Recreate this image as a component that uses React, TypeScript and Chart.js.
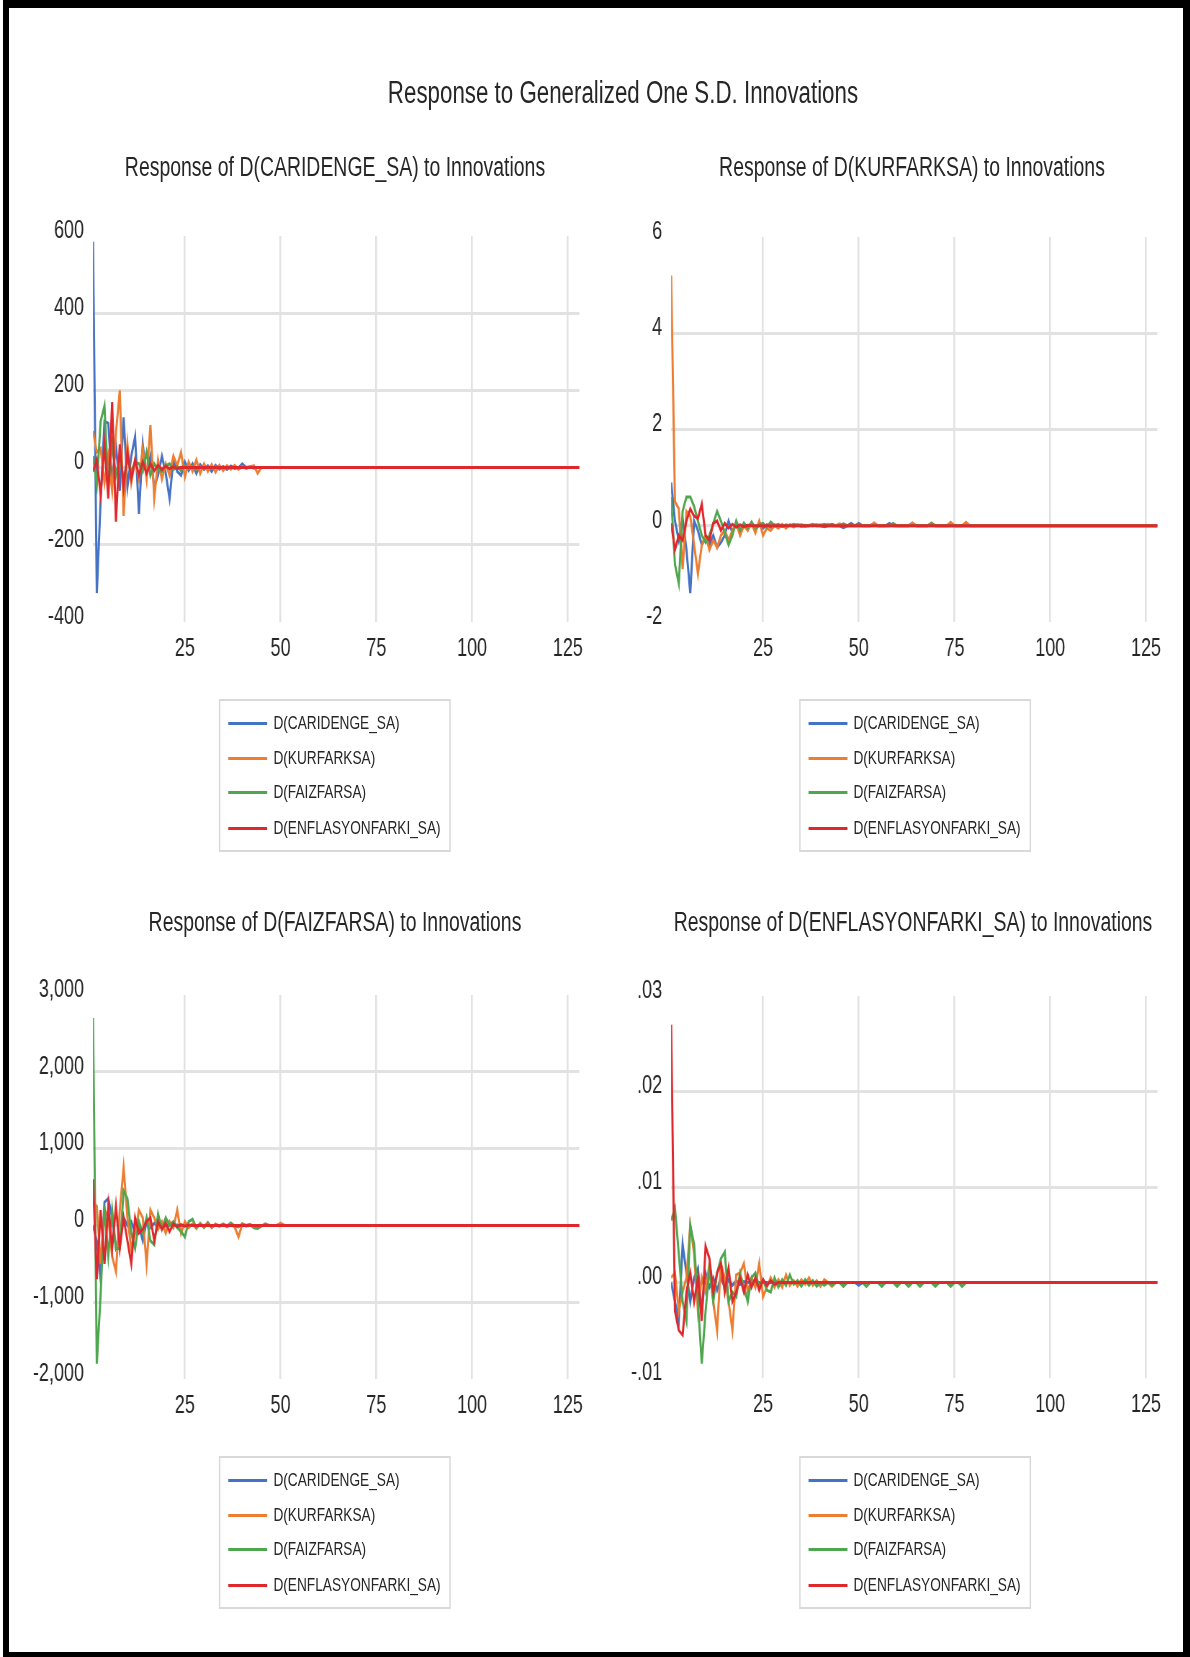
import React, { useEffect, useRef } from "react";
import { Chart, registerables } from "chart.js";

Chart.register(...registerables);

// ---------- text ----------
const mainTitle = "Response to Generalized One S.D. Innovations";
const panelTitles = [
  "Response of D(CARIDENGE_SA) to Innovations",
  "Response of D(KURFARKSA) to Innovations",
  "Response of D(FAIZFARSA) to Innovations",
  "Response of D(ENFLASYONFARKI_SA) to Innovations",
];
const seriesNames = ["D(CARIDENGE_SA)", "D(KURFARKSA)", "D(FAIZFARSA)", "D(ENFLASYONFARKI_SA)"];
const seriesColors = ["#4472C4", "#ED7D31", "#4EA64E", "#E0282C"];

// ---------- axes ----------
const X_MIN = 1;
const X_MAX = 128;
const xTicks = [25, 50, 75, 100, 125];
const xTickLabels = ["25", "50", "75", "100", "125"];

const yTicksCari = [-400, -200, 0, 200, 400, 600];
const yLabelsCari = ["-400", "-200", "0", "200", "400", "600"];
const yTicksKur = [-2, 0, 2, 4, 6];
const yLabelsKur = ["-2", "0", "2", "4", "6"];
const yTicksFaiz = [-2000, -1000, 0, 1000, 2000, 3000];
const yLabelsFaiz = ["-2,000", "-1,000", "0", "1,000", "2,000", "3,000"];
const yTicksEnf = [-0.01, 0, 0.01, 0.02, 0.03];
const yLabelsEnf = ["-.01", ".00", ".01", ".02", ".03"];

// ---------- series (periods 1..128) ----------
// Response of D(CARIDENGE_SA)
const cariToCari = [
  585, -325, -85, 120, 115, -40, 60, -60, 130, -50, 30, 80,
  -120, 60, -20, 30, -50, -20, 30, -15, -80, 20, -10, -20,
  15, -8, 10, -15, 8, -5, 5, -10, 6, -4, 3, -5,
  4, -2, 0, 10, 0, 2, -1, 0, 0, 0, 0, 0,
  0, 0, 0, 0, 0, 0, 0, 0, 0, 0, 0, 0, 0, 0, 0, 0, 0, 0, 0, 0,
  0, 0, 0, 0, 0, 0, 0, 0, 0, 0, 0, 0, 0, 0, 0, 0, 0, 0, 0, 0,
  0, 0, 0, 0, 0, 0, 0, 0, 0, 0, 0, 0, 0, 0, 0, 0, 0, 0, 0, 0,
  0, 0, 0, 0, 0, 0, 0, 0, 0, 0, 0, 0, 0, 0, 0, 0, 0, 0, 0, 0,
];
const cariToKur = [
  95, 40, 50, -40, 30, -60, 90, 200, -125, 60, -40, 20,
  -30, 50, -30, 110, -80, 20, -30, 10, -20, 30, 5, 40,
  -25, 15, -10, 20, -15, 10, -10, 8, -12, 6, -8, 5,
  -4, 6, -5, 3, -3, 2, 5, -15, 0, 0, 0, 0,
  0, 0, 0, 0, 0, 0, 0, 0, 0, 0, 0, 0, 0, 0, 0, 0, 0, 0, 0, 0,
  0, 0, 0, 0, 0, 0, 0, 0, 0, 0, 0, 0, 0, 0, 0, 0, 0, 0, 0, 0,
  0, 0, 0, 0, 0, 0, 0, 0, 0, 0, 0, 0, 0, 0, 0, 0, 0, 0, 0, 0,
  0, 0, 0, 0, 0, 0, 0, 0, 0, 0, 0, 0, 0, 0, 0, 0, 0, 0, 0, 0,
];
const cariToFaiz = [
  30, -45, 120, 160, -50, 60, -20, 30, -30, 20, -10, 15,
  10, -10, 40, -20, 10, -5, -10, 5, 10, -5, 3, -8,
  5, -3, 4, -6, 3, -2, 2, -3, 2, -1, 1, -1,
  0, 0, 0, 0, 0, 0, 0, 0, 0, 0, 0, 0,
  0, 0, 0, 0, 0, 0, 0, 0, 0, 0, 0, 0, 0, 0, 0, 0, 0, 0, 0, 0,
  0, 0, 0, 0, 0, 0, 0, 0, 0, 0, 0, 0, 0, 0, 0, 0, 0, 0, 0, 0,
  0, 0, 0, 0, 0, 0, 0, 0, 0, 0, 0, 0, 0, 0, 0, 0, 0, 0, 0, 0,
  0, 0, 0, 0, 0, 0, 0, 0, 0, 0, 0, 0, 0, 0, 0, 0, 0, 0, 0, 0,
];
const cariToEnf = [
  -10, 20, -70, 60, -80, 170, -140, 60, -50, 40, -30, 20,
  -20, 15, -15, 10, -8, 6, -5, 4, -3, 2, -2, 1,
  0, 0, 0, 0, 0, 0, 0, 0, 0, 0, 0, 0,
  0, 0, 0, 0, 0, 0, 0, 0, 0, 0, 0, 0,
  0, 0, 0, 0, 0, 0, 0, 0, 0, 0, 0, 0, 0, 0, 0, 0, 0, 0, 0, 0,
  0, 0, 0, 0, 0, 0, 0, 0, 0, 0, 0, 0, 0, 0, 0, 0, 0, 0, 0, 0,
  0, 0, 0, 0, 0, 0, 0, 0, 0, 0, 0, 0, 0, 0, 0, 0, 0, 0, 0, 0,
  0, 0, 0, 0, 0, 0, 0, 0, 0, 0, 0, 0, 0, 0, 0, 0, 0, 0, 0, 0,
];

// Response of D(KURFARKSA)
const kurToCari = [
  0.9, 0.1, -0.3, 0.15, -0.5, -1.4, 0.1, -0.1, -0.4, -0.25, -0.4, -0.2,
  -0.45, -0.35, -0.2, 0.1, -0.15, 0.05, -0.1, 0.05, -0.05, 0.03, -0.08, 0.02,
  -0.05, 0.02, -0.03, 0.02, -0.02, 0.01, -0.02, 0.01, 0, 0.02, 0, -0.01,
  0.01, 0, 0.02, 0, -0.02, 0, 0.03, 0, 0, -0.04, 0, 0.05,
  0, 0.05, 0, 0, 0, 0.05, 0, 0, 0, 0.05, 0, 0, 0, 0, 0, 0.05, 0, 0, 0, 0,
  0, 0, 0, 0, 0, 0, 0, 0, 0, 0, 0, 0, 0, 0, 0, 0, 0, 0, 0, 0,
  0, 0, 0, 0, 0, 0, 0, 0, 0, 0, 0, 0, 0, 0, 0, 0, 0, 0, 0, 0,
  0, 0, 0, 0, 0, 0, 0, 0, 0, 0, 0, 0, 0, 0, 0, 0, 0, 0, 0, 0,
];
const kurToKur = [
  5.2, 0.5, 0.35, -0.9, 0.3, 0.2, -0.4, -1.0, -0.4, -0.2, -0.5, -0.3,
  -0.45, -0.2, -0.1, -0.3, -0.1, 0.05, -0.2, 0, -0.1, 0.05, -0.15, 0.1,
  -0.2, -0.05, -0.1, 0, -0.05, 0.03, -0.05, 0.02, -0.03, 0.02, -0.02, 0.01,
  0, 0.03, 0, 0.02, 0, 0.03, 0, 0, 0.04, 0, 0, 0,
  0, 0, 0, 0, 0, 0.06, 0, 0, 0, 0, 0, 0, 0, 0, 0, 0.06, 0, 0, 0, 0,
  0.06, 0, 0, 0, 0, 0.07, 0, 0, 0, 0.07, 0, 0, 0, 0, 0, 0, 0, 0, 0, 0,
  0, 0, 0, 0, 0, 0, 0, 0, 0, 0, 0, 0, 0, 0, 0, 0, 0, 0, 0, 0,
  0, 0, 0, 0, 0, 0, 0, 0, 0, 0, 0, 0, 0, 0, 0, 0, 0, 0, 0, 0,
];
const kurToFaiz = [
  0.6, -0.8, -1.2, 0.3, 0.6, 0.6, 0.4, 0.1, -0.2, -0.35, -0.2, 0.05,
  0.3, 0.1, -0.15, -0.4, -0.2, 0.1, -0.1, 0.05, -0.05, 0.08, -0.05, 0.03,
  0.05, -0.03, 0.08, 0, 0.03, -0.02, 0.02, 0, 0.03, 0, 0.02, 0,
  0, 0.02, 0, 0, 0.03, 0, 0, 0, 0, 0.04, 0, 0,
  0, 0, 0, 0, 0, 0, 0, 0, 0, 0, 0.05, 0, 0, 0, 0, 0, 0, 0, 0, 0,
  0.05, 0, 0, 0, 0, 0, 0, 0, 0, 0, 0, 0, 0, 0, 0, 0, 0, 0, 0, 0,
  0, 0, 0, 0, 0, 0, 0, 0, 0, 0, 0, 0, 0, 0, 0, 0, 0, 0, 0, 0,
  0, 0, 0, 0, 0, 0, 0, 0, 0, 0, 0, 0, 0, 0, 0, 0, 0, 0, 0, 0,
];
const kurToEnf = [
  0.05, -0.5, -0.2, -0.3, 0.1, 0.35, 0.2, 0.15, 0.45, -0.2, -0.3, 0.05,
  0.1, -0.1, 0.05, -0.05, 0.03, -0.03, 0.02, -0.02, 0.01, 0, 0, 0,
  0, 0, 0, 0, 0, 0, 0, 0, 0, 0, 0, 0,
  0, 0, 0, 0, 0, 0, 0, 0, 0, 0, 0, 0,
  0, 0, 0, 0, 0, 0, 0, 0, 0, 0, 0, 0, 0, 0, 0, 0, 0, 0, 0, 0,
  0, 0, 0, 0, 0, 0, 0, 0, 0, 0, 0, 0, 0, 0, 0, 0, 0, 0, 0, 0,
  0, 0, 0, 0, 0, 0, 0, 0, 0, 0, 0, 0, 0, 0, 0, 0, 0, 0, 0, 0,
  0, 0, 0, 0, 0, 0, 0, 0, 0, 0, 0, 0, 0, 0, 0, 0, 0, 0, 0, 0,
];

// Response of D(FAIZFARSA)
const faizToCari = [
  0, -200, -700, 300, 350, 100, -300, -200, 100, 0, 50, -100,
  0, -200, 50, -30, 30, -20, 20, -10, 10, -5, 5, -5,
  0, 0, 0, 0, 0, 0, 0, 0, 0, 0, 0, 0,
  0, 0, 0, 0, 0, 0, 0, 0, 0, 0, 0, 0,
  0, 0, 0, 0, 0, 0, 0, 0, 0, 0, 0, 0, 0, 0, 0, 0, 0, 0, 0, 0,
  0, 0, 0, 0, 0, 0, 0, 0, 0, 0, 0, 0, 0, 0, 0, 0, 0, 0, 0, 0,
  0, 0, 0, 0, 0, 0, 0, 0, 0, 0, 0, 0, 0, 0, 0, 0, 0, 0, 0, 0,
  0, 0, 0, 0, 0, 0, 0, 0, 0, 0, 0, 0, 0, 0, 0, 0, 0, 0, 0, 0,
];
const faizToKur = [
  300, 250, -500, 200, 100, -400, -600, 200, 750, 100, -300, -100,
  200, 100, -500, 200, 100, -50, 50, -100, 50, -30, 200, -100,
  50, -30, 20, -40, 30, -20, 40, -30, 20, -10, 10, -20,
  10, -20, -150, 20, -10, 5, -5, 0, 0, 0, 0, 0,
  0, 30, 0, 0, 0, 0, 0, 0, 0, 0, 0, 0, 0, 0, 0, 0, 0, 0, 0, 0,
  0, 0, 0, 0, 0, 0, 0, 0, 0, 0, 0, 0, 0, 0, 0, 0, 0, 0, 0, 0,
  0, 0, 0, 0, 0, 0, 0, 0, 0, 0, 0, 0, 0, 0, 0, 0, 0, 0, 0, 0,
  0, 0, 0, 0, 0, 0, 0, 0, 0, 0, 0, 0, 0, 0, 0, 0, 0, 0, 0, 0,
];
const faizToFaiz = [
  2700, -1800, -900, 250, -400, 200, -300, -300, 450, 350, -100, -300,
  50, -100, 100, -200, -250, 150, -50, 100, 0, 50, -30, -80,
  -150, 50, 80, -30, 20, -30, 30, -20, 10, -10, 20, -10,
  30, -10, -20, 20, 0, 15, -30, -40, -10, 20, 0, 0,
  0, 0, 0, 0, 0, 0, 0, 0, 0, 0, 0, 0, 0, 0, 0, 0, 0, 0, 0, 0,
  0, 0, 0, 0, 0, 0, 0, 0, 0, 0, 0, 0, 0, 0, 0, 0, 0, 0, 0, 0,
  0, 0, 0, 0, 0, 0, 0, 0, 0, 0, 0, 0, 0, 0, 0, 0, 0, 0, 0, 0,
  0, 0, 0, 0, 0, 0, 0, 0, 0, 0, 0, 0, 0, 0, 0, 0, 0, 0, 0, 0,
];
const faizToEnf = [
  600, -700, 200, -500, 250, -300, 250, -300, 100, -200, -500, 100,
  -100, -50, 50, 100, -200, 50, -50, 30, -80, 20, -20, 10,
  -10, 5, 0, 0, 0, 0, 0, 0, 0, 0, 0, 0,
  0, 0, 0, 0, 0, 0, 0, 0, 0, 0, 0, 0,
  0, 0, 0, 0, 0, 0, 0, 0, 0, 0, 0, 0, 0, 0, 0, 0, 0, 0, 0, 0,
  0, 0, 0, 0, 0, 0, 0, 0, 0, 0, 0, 0, 0, 0, 0, 0, 0, 0, 0, 0,
  0, 0, 0, 0, 0, 0, 0, 0, 0, 0, 0, 0, 0, 0, 0, 0, 0, 0, 0, 0,
  0, 0, 0, 0, 0, 0, 0, 0, 0, 0, 0, 0, 0, 0, 0, 0, 0, 0, 0, 0,
];

// Response of D(ENFLASYONFARKI_SA)
const enfToCari = [
  0, -0.002, -0.004, 0.004, 0.001, -0.002, 0.0005, 0.0015, -0.003, 0.001, -0.0005, 0.0005,
  -0.0008, 0.0005, -0.0005, 0.0003, -0.0003, 0.0002, -0.0002, 0.0001, 0, 0, 0, 0,
  0, 0, 0, 0, 0, 0, 0, 0, 0, 0, 0, 0,
  0, 0, 0, 0, 0, 0, 0, 0, 0, -0.0003, 0, 0,
  0, -0.0003, 0, 0, 0, 0, 0, 0, 0, 0, 0, 0, 0, 0, 0, 0, 0, 0, 0, 0,
  0, 0, 0, 0, 0, 0, 0, 0, 0, 0, 0, 0, 0, 0, 0, 0, 0, 0, 0, 0,
  0, 0, 0, 0, 0, 0, 0, 0, 0, 0, 0, 0, 0, 0, 0, 0, 0, 0, 0, 0,
  0, 0, 0, 0, 0, 0, 0, 0, 0, 0, 0, 0, 0, 0, 0, 0, 0, 0, 0, 0,
];
const enfToKur = [
  0.0005, 0.001, -0.003, -0.001, 0.0005, 0.006, 0.003, -0.003, 0.0005, -0.001, 0.002, -0.002,
  -0.005, 0.002, 0.0005, -0.002, -0.005, 0.0008, 0.001, 0.002, -0.001, 0.0005, -0.0005, 0.002,
  -0.0015, -0.0005, 0.0005, -0.0005, 0.0003, -0.0005, 0.0008, -0.0003, 0.0002, -0.0004, 0.0003, -0.0002,
  0.0005, -0.0003, 0.0002, -0.0004, 0.0003, 0, -0.0004, 0, 0, 0, 0, 0,
  0, 0, 0, 0, 0, 0, 0, 0, 0, 0, 0, 0, 0, 0, 0, 0, 0, 0, 0, 0,
  0, 0, 0, 0, 0, 0, 0, 0, 0, 0, 0, 0, 0, 0, 0, 0, 0, 0, 0, 0,
  0, 0, 0, 0, 0, 0, 0, 0, 0, 0, 0, 0, 0, 0, 0, 0, 0, 0, 0, 0,
  0, 0, 0, 0, 0, 0, 0, 0, 0, 0, 0, 0, 0, 0, 0, 0, 0, 0, 0, 0,
];
const enfToFaiz = [
  0.0065, 0.0078, 0.003, -0.002, -0.004, 0.006, 0.004, -0.002, -0.0085, -0.003, 0.0015, -0.002,
  0.001, 0.0025, 0.0032, -0.002, -0.001, -0.0015, 0.001, -0.0005, -0.002, 0.0005, 0.001, -0.0005,
  0.0003, -0.0008, -0.001, 0.0005, -0.0005, 0.0003, -0.0003, 0.0008, -0.0002, 0.0002, -0.0004, 0.0003,
  -0.0003, 0.0002, -0.0004, 0, -0.0003, 0, -0.0003, 0, 0, -0.0004, 0, 0,
  0, 0, 0, -0.0004, 0, 0, 0, -0.0004, 0, 0, 0, -0.0004, 0, 0, -0.0004, 0, 0, -0.0004, 0, 0,
  0, -0.0004, 0, 0, 0, -0.0004, 0, 0, -0.0004, 0, 0, 0, 0, 0, 0, 0, 0, 0, 0, 0,
  0, 0, 0, 0, 0, 0, 0, 0, 0, 0, 0, 0, 0, 0, 0, 0, 0, 0, 0, 0,
  0, 0, 0, 0, 0, 0, 0, 0, 0, 0, 0, 0, 0, 0, 0, 0, 0, 0, 0, 0,
];
const enfToEnf = [
  0.027, -0.003, -0.005, -0.0055, -0.001, 0.001, -0.002, 0.0005, -0.004, 0.0038, 0.0025, -0.001,
  0.001, 0.002, -0.001, 0.0015, -0.002, -0.001, 0.0005, -0.001, 0.0008, -0.0005, 0.0005, -0.0008,
  0.0003, -0.0003, 0.0002, -0.0002, 0, 0, 0, 0, 0, 0, 0, 0,
  0, 0, 0, 0, 0, 0, 0, 0, 0, 0, 0, 0,
  0, 0, 0, 0, 0, 0, 0, 0, 0, 0, 0, 0, 0, 0, 0, 0, 0, 0, 0, 0,
  0, 0, 0, 0, 0, 0, 0, 0, 0, 0, 0, 0, 0, 0, 0, 0, 0, 0, 0, 0,
  0, 0, 0, 0, 0, 0, 0, 0, 0, 0, 0, 0, 0, 0, 0, 0, 0, 0, 0, 0,
  0, 0, 0, 0, 0, 0, 0, 0, 0, 0, 0, 0, 0, 0, 0, 0, 0, 0, 0, 0,
];

// ---------- layout (page px; the whole figure is squeezed horizontally by K) ----------
const K = 0.72;
const FONT = "'Liberation Sans', Arial, sans-serif";
const TEXT = "#262626";
const GRID = "#e2e2e2";
const PAD_L = 62;
const PAD_R = 14;
const PAD_T = 32;
const PAD_B = 50;

type PanelProps = {
  left: number;
  right: number;
  top: number;
  bottom: number;
  series: number[][];
  yTicks: number[];
  yLabels: string[];
};

function Panel(p: PanelProps) {
  const ref = useRef<HTMLCanvasElement | null>(null);
  const w = Math.round((p.right - p.left + PAD_L + PAD_R) / K);
  const h = p.bottom - p.top + PAD_T + PAD_B;
  useEffect(() => {
    const canvas = ref.current;
    if (!canvas) return;
    const yt = p.yTicks;
    const yMin = yt[0];
    const yMax = yt[yt.length - 1];
    const chart = new Chart(canvas, {
      type: "line",
      data: {
        datasets: p.series.map((vals, i) => ({
          label: seriesNames[i],
          data: vals.map((v, j) => ({ x: X_MIN + j, y: v })),
          borderColor: seriesColors[i],
          backgroundColor: seriesColors[i],
          borderWidth: 3,
          pointRadius: 0,
          tension: 0,
          fill: false,
          order: 3 - i,
        })),
      },
      options: {
        responsive: false,
        animation: false,
        devicePixelRatio: 1,
        layout: { padding: { top: PAD_T, right: PAD_R / K, bottom: 0, left: 0 } },
        plugins: {
          legend: { display: false },
          tooltip: { enabled: false },
          title: { display: false },
        },
        scales: {
          x: {
            type: "linear",
            min: X_MIN,
            max: X_MAX,
            afterBuildTicks: (s: any) => {
              s.ticks = xTicks.map((v) => ({ value: v }));
            },
            afterFit: (s: any) => {
              s.height = PAD_B;
            },
            grid: { color: GRID, lineWidth: 2.6, drawTicks: false },
            border: { display: false },
            ticks: {
              autoSkip: false,
              maxRotation: 0,
              padding: 12,
              color: TEXT,
              font: { family: FONT, size: 25 },
              callback: (_v: any, i: number) => xTickLabels[i],
            },
          },
          y: {
            type: "linear",
            min: yMin,
            max: yMax,
            afterBuildTicks: (s: any) => {
              s.ticks = yt.map((v) => ({ value: v }));
            },
            afterFit: (s: any) => {
              s.width = PAD_L / K;
            },
            grid: {
              color: (c: any) =>
                c.tick && (c.tick.value === yMin || c.tick.value === yMax) ? "rgba(0,0,0,0)" : GRID,
              lineWidth: 3,
              drawTicks: false,
            },
            border: { display: false },
            ticks: {
              padding: 9 / K,
              labelOffset: -5,
              color: TEXT,
              font: { family: FONT, size: 25 },
              callback: (_v: any, i: number) => p.yLabels[i],
            },
          },
        },
      },
    } as any);
    return () => chart.destroy();
  }, []);
  return (
    <canvas
      ref={ref}
      width={w}
      height={h}
      style={{
        position: "absolute",
        left: (p.left - PAD_L) / K,
        top: p.top - PAD_T,
        width: w,
        height: h,
        display: "block",
      }}
    />
  );
}

function CenterText({ text, cx, cy, size }: { text: string; cx: number; cy: number; size: number }) {
  return (
    <div
      style={{
        position: "absolute",
        left: cx / K - 800,
        width: 1600,
        top: cy - size * 0.49,
        fontSize: size,
        lineHeight: `${size}px`,
        fontFamily: FONT,
        color: TEXT,
        textAlign: "center",
        whiteSpace: "nowrap",
      }}
    >
      {text}
    </div>
  );
}

function Legend({ left, top }: { left: number; top: number }) {
  const rowY = [24, 59, 93, 129];
  return (
    <div
      style={{
        position: "absolute",
        left: left / K,
        top,
        width: 232 / K,
        height: 153,
        boxSizing: "border-box",
        border: "2px solid #d9d9d9",
        background: "#fff",
      }}
    >
      {seriesNames.map((name, i) => (
        <React.Fragment key={name}>
          <div
            style={{
              position: "absolute",
              left: 8 / K,
              top: rowY[i] - 2 - 1.5,
              width: 39 / K,
              height: 3,
              background: seriesColors[i],
            }}
          />
          <div
            style={{
              position: "absolute",
              left: 53 / K,
              top: rowY[i] - 2 - 10,
              fontSize: 19,
              lineHeight: "20px",
              fontFamily: FONT,
              color: TEXT,
              whiteSpace: "nowrap",
            }}
          >
            {name}
          </div>
        </React.Fragment>
      ))}
    </div>
  );
}

export default function App() {
  return (
    <div
      style={{
        position: "absolute",
        left: 0,
        top: 0,
        width: 1190,
        height: 1657,
        overflow: "hidden",
        background: "#fff",
      }}
    >
      <div
        style={{
          position: "absolute",
          left: 0,
          top: 0,
          width: 1190 / K,
          height: 1657,
          transform: `scaleX(${K})`,
          transformOrigin: "0 0",
        }}
      >
        <CenterText text={mainTitle} cx={623} cy={92} size={31} />
        <CenterText text={panelTitles[0]} cx={335} cy={167} size={27} />
        <CenterText text={panelTitles[1]} cx={912} cy={167} size={27} />
        <CenterText text={panelTitles[2]} cx={335} cy={922} size={27} />
        <CenterText text={panelTitles[3]} cx={913} cy={922} size={27} />

        <Panel left={93} right={579} top={236} bottom={622}
          series={[cariToCari, cariToKur, cariToFaiz, cariToEnf]}
          yTicks={yTicksCari} yLabels={yLabelsCari} />
        <Panel left={671} right={1157} top={237} bottom={622}
          series={[kurToCari, kurToKur, kurToFaiz, kurToEnf]}
          yTicks={yTicksKur} yLabels={yLabelsKur} />
        <Panel left={93} right={579} top={995} bottom={1379}
          series={[faizToCari, faizToKur, faizToFaiz, faizToEnf]}
          yTicks={yTicksFaiz} yLabels={yLabelsFaiz} />
        <Panel left={671} right={1157} top={996} bottom={1378}
          series={[enfToCari, enfToKur, enfToFaiz, enfToEnf]}
          yTicks={yTicksEnf} yLabels={yLabelsEnf} />

        <Legend left={219} top={699} />
        <Legend left={799} top={699} />
        <Legend left={219} top={1456} />
        <Legend left={799} top={1456} />
      </div>
      <div
        style={{
          position: "absolute",
          left: 3,
          top: 0,
          width: 1187,
          height: 1657,
          boxSizing: "border-box",
          borderStyle: "solid",
          borderColor: "#000",
          borderWidth: "8px 7px 5px 6px",
          pointerEvents: "none",
        }}
      />
    </div>
  );
}
